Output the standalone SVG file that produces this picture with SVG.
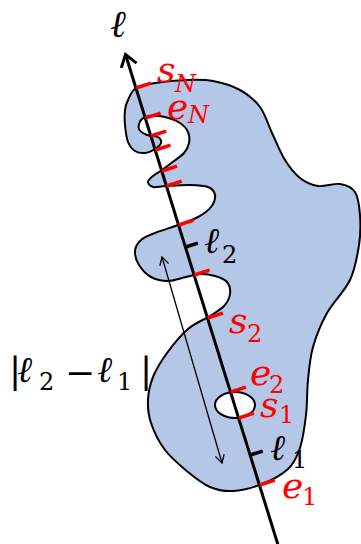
<svg xmlns="http://www.w3.org/2000/svg" width="361" height="544" viewBox="0 0 361 544">
<defs>
<style>
.shape{fill:#B4C7E7;stroke:#000;stroke-width:2;stroke-linejoin:round}
.hole{fill:#fff;stroke:#000;stroke-width:2}
.tick{stroke:#FF0000;stroke-width:3.5}
.btick{stroke:#000;stroke-width:3.5}
.axis{stroke:#000;stroke-width:3;fill:none}
.meas{stroke:#000;stroke-width:1.3;fill:none}
.m{font-family:"DejaVu Serif","Liberation Serif",serif;font-style:italic;font-size:36px;fill:#000}
.sub{font-size:24px}
.up{font-style:normal}
.red{fill:#FF0000}
</style>
<marker id="hb" markerUnits="userSpaceOnUse" markerWidth="20" markerHeight="24" viewBox="0 0 20 24" refX="15" refY="12" orient="auto" overflow="visible">
<path d="M3.5,4 L15,12 L3.5,20" fill="none" stroke="#000" stroke-width="3"/>
</marker>
<marker id="hs" markerUnits="userSpaceOnUse" markerWidth="12" markerHeight="12" viewBox="0 0 12 12" refX="10" refY="6" orient="auto-start-reverse" overflow="visible">
<path d="M2,1.5 L10,6 L2,10.5" fill="none" stroke="#000" stroke-width="1.3"/>
</marker>
</defs>
<g id="region">
<path class="shape" d="M128,100 C129.83,96.33 131.5,90.83 136,88 C140.5,85.17 146.5,84.33 155,83 C163.5,81.67 177.33,80.33 187,80 C196.67,79.67 204.17,79.33 213,81 C221.83,82.67 232.17,85.67 240,90 C247.83,94.33 254.67,99.83 260,107 C265.33,114.17 267.83,124.17 272,133 C276.17,141.83 280.33,152.5 285,160 C289.67,167.5 294.5,173.67 300,178 C305.5,182.33 311.33,185 318,186 C324.67,187 333.83,183 340,184 C346.17,185 351.67,186.83 355,192 C358.33,197.17 359.33,206.17 360,215 C360.67,223.83 360.67,234.17 359,245 C357.33,255.83 355.33,268.67 350,280 C344.67,291.33 333.17,301.83 327,313 C320.83,324.17 316.17,335.83 313,347 C309.83,358.17 309.17,368.67 308,380 C306.83,391.33 307.33,403.67 306,415 C304.67,426.33 303,439 300,448 C297,457 294.33,463 288,469 C281.67,475 271.17,480.33 262,484 C252.83,487.67 241.67,490.5 233,491 C224.33,491.5 217.5,490.17 210,487 C202.5,483.83 195.5,478.17 188,472 C180.5,465.83 171.17,458.17 165,450 C158.83,441.83 153.83,431.33 151,423 C148.17,414.67 147.67,407.67 148,400 C148.33,392.33 149.83,384.83 153,377 C156.17,369.17 161.17,361 167,353 C172.83,345 180.83,335.17 188,329 C195.17,322.83 204,319.83 210,316 C216,312.17 220.67,309.67 224,306 C227.33,302.33 229.5,298 230,294 C230.5,290 229.5,285 227,282 C224.5,279 219.5,277.33 215,276 C210.5,274.67 204.83,273.83 200,274 C195.17,274.17 191.33,275.83 186,277 C180.67,278.17 173.83,281 168,281 C162.17,281 155.83,279.67 151,277 C146.17,274.33 141.67,269.33 139,265 C136.33,260.67 134.67,255.17 135,251 C135.33,246.83 137.67,243 141,240 C144.33,237 148.83,235.5 155,233 C161.17,230.5 170.83,227.67 178,225 C185.17,222.33 192.5,220 198,217 C203.5,214 208.17,210.67 211,207 C213.83,203.33 215.5,198.33 215,195 C214.5,191.67 212.17,188.67 208,187 C203.83,185.33 197,185.17 190,185 C183,184.83 172.17,185.67 166,186 C159.83,186.33 156,187.67 153,187 C150,186.33 148,183.83 148,182 C148,180.17 150.67,178 153,176 C155.33,174 158.5,172.5 162,170 C165.5,167.5 170.33,163.83 174,161 C177.67,158.17 181.5,156 184,153 C186.5,150 188.33,146.5 189,143 C189.67,139.5 189.5,135.33 188,132 C186.5,128.67 183.83,125.5 180,123 C176.17,120.5 170,118.17 165,117 C160,115.83 154,115.5 150,116 C146,116.5 142.83,117.83 141,120 C139.17,122.17 138,126.5 139,129 C140,131.5 143.83,133.67 147,135 C150.17,136.33 155.67,135.67 158,137 C160.33,138.33 161.5,141 161,143 C160.5,145 157.67,147.33 155,149 C152.33,150.67 148.33,152.67 145,153 C141.67,153.33 137.83,152.83 135,151 C132.17,149.17 129.67,146.33 128,142 C126.33,137.67 125.5,130.33 125,125 C124.5,119.67 124.5,114.17 125,110 C125.5,105.83 126.17,103.67 128,100 Z"/>
<ellipse class="hole" cx="235" cy="405" rx="20" ry="13"/>
</g>
<g id="connectors">
<line class="axis" x1="279" y1="548" x2="125.5" y2="54.5" marker-end="url(#hb)"/>
<line class="meas" x1="222" y1="463" x2="162" y2="257" marker-start="url(#hs)" marker-end="url(#hs)"/>
</g>
<g id="ticks">
<line class="tick" x1="135.9" y1="88" x2="151.2" y2="83.2"/>
<line class="tick" x1="145.3" y1="118" x2="160.6" y2="113.2"/>
<line class="tick" x1="150.9" y1="136" x2="166.2" y2="131.2"/>
<line class="tick" x1="155.2" y1="150" x2="170.5" y2="145.2"/>
<line class="tick" x1="161.8" y1="171" x2="177.1" y2="166.2"/>
<line class="tick" x1="166.4" y1="186" x2="181.7" y2="181.2"/>
<line class="tick" x1="178.6" y1="225" x2="193.9" y2="220.2"/>
<line class="tick" x1="194.2" y1="275" x2="209.5" y2="270.2"/>
<line class="tick" x1="207.6" y1="318" x2="222.9" y2="313.2"/>
<line class="tick" x1="230.6" y1="392" x2="245.9" y2="387.2"/>
<line class="tick" x1="238.7" y1="418" x2="254" y2="413.2"/>
<line class="tick" x1="259.6" y1="485" x2="274.9" y2="480.2"/>
<line class="btick" x1="185.5" y1="247" x2="197.9" y2="243.1"/>
<line class="btick" x1="250.3" y1="455" x2="262.7" y2="451.1"/>
</g>
<g id="labels">
<g id="label-l"><text class="m" x="110" y="37" style="font-size:38px">ℓ</text></g>
<g id="label-sN"><text class="m red" x="157" y="82">s<tspan class="sub" x="175" y="92">N</tspan></text></g>
<g id="label-eN"><text class="m red" x="167" y="119">e<tspan class="sub" x="188" y="123">N</tspan></text></g>
<g id="label-l2"><text class="m" x="204" y="253">ℓ<tspan class="sub up" x="222" y="263">2</tspan></text></g>
<g id="label-s2"><text class="m red" x="229" y="333">s<tspan class="sub up" x="247" y="342">2</tspan></text></g>
<g id="label-e2"><text class="m red" x="250" y="385">e<tspan class="sub up" x="269" y="393">2</tspan></text></g>
<g id="label-s1"><text class="m red" x="260" y="417">s<tspan class="sub up" x="279" y="423">1</tspan></text></g>
<g id="label-l1"><text class="m" x="270" y="460">ℓ<tspan class="sub up" x="292" y="468">1</tspan></text></g>
<g id="label-e1"><text class="m red" x="282" y="498">e<tspan class="sub up" x="302" y="505">1</tspan></text></g>
<g id="label-diff"><text class="m"><tspan class="up" x="9" y="383">|</tspan><tspan x="17" y="382">ℓ</tspan><tspan class="sub up" x="39" y="390">2</tspan><tspan class="up" x="65" y="385">−</tspan><tspan x="97" y="382">ℓ</tspan><tspan class="sub up" x="117" y="390">1</tspan><tspan class="up" x="140" y="383">|</tspan></text></g>
</g>
</svg>
